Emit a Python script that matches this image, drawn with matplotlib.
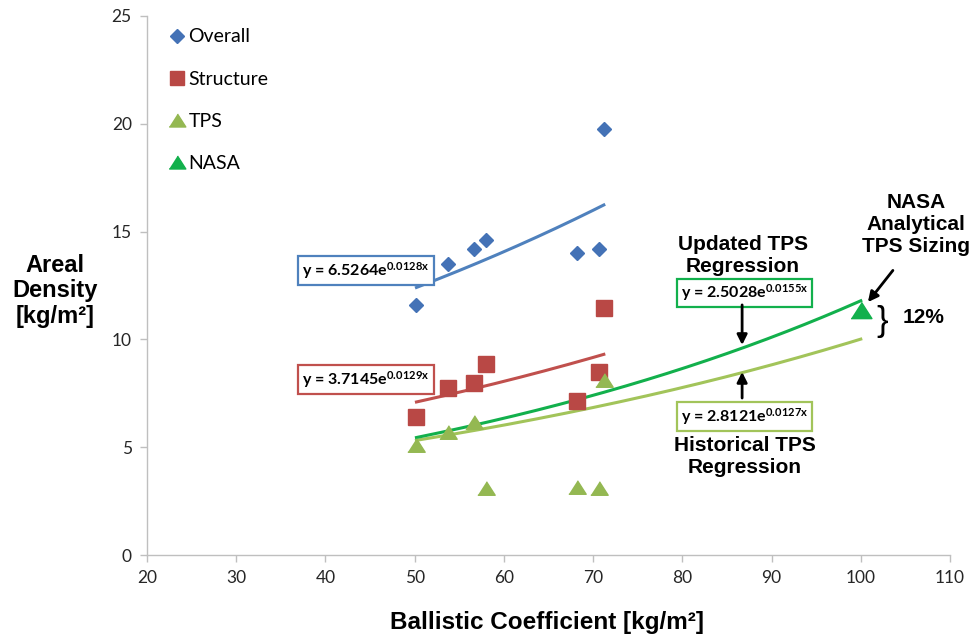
import numpy as np
import matplotlib
matplotlib.use("Agg")
import matplotlib.pyplot as plt
from matplotlib.lines import Line2D

# ---------------- data ----------------
overall_x = [50.2, 53.7, 56.6, 58.0, 68.2, 70.7, 71.2]
overall_y = [11.6, 13.5, 14.2, 14.6, 14.0, 14.2, 19.75]
structure_x = [50.2, 53.7, 56.6, 58.0, 68.2, 70.7, 71.2]
structure_y = [6.41, 7.73, 7.99, 8.86, 7.16, 8.5, 11.46]
tps_x = [50.2, 53.7, 56.6, 58.0, 68.2, 70.7, 71.2]
tps_y = [5.1, 5.72, 6.18, 3.09, 3.17, 3.1, 8.1]
nasa_x = [100.0]
nasa_y = [11.35]

# exponential regressions y = a*exp(b*x)
fit_overall = (6.5264, 0.0128)
fit_structure = (3.7145, 0.0129)
fit_hist = (2.8121, 0.0127)
fit_updated = (2.5028, 0.0155)
fit_range_hist = (50.2, 71.2)
fit_range_ext = (50.2, 100.0)

xticks = [20, 30, 40, 50, 60, 70, 80, 90, 100, 110]
yticks = [0, 5, 10, 15, 20, 25]

plt.rcParams['mathtext.fontset'] = 'custom'
plt.rcParams['mathtext.rm'] = 'Lato:bold'
plt.rcParams['mathtext.bf'] = 'Lato:bold'
plt.rcParams['mathtext.default'] = 'bf'

C_BLUE_M = '#4472B6'
C_BLUE_L = '#4F81BD'
C_RED_M = '#B94845'
C_RED_L = '#C0504D'
C_TPS = '#94B852'
C_HIST = '#A2C45A'
C_NASA = '#12B04C'

fig = plt.figure(figsize=(9.74, 6.36), dpi=100)
ax = fig.add_axes([147/974, 1-555/636, (950-147)/974, (555-16)/636])

tri = [(-1, -0.78), (1, -0.78), (0, 0.78)]

def fit(p, lo, hi):
    xs = np.linspace(lo, hi, 200)
    return xs, p[0]*np.exp(p[1]*xs)

# fits
xs, ys = fit(fit_overall, *fit_range_hist)
ax.plot(xs, ys, color=C_BLUE_L, lw=2.2, zorder=2)
xs, ys = fit(fit_structure, *fit_range_hist)
ax.plot(xs, ys, color=C_RED_L, lw=2.2, zorder=2)
xs, ys = fit(fit_hist, *fit_range_ext)
ax.plot(xs, ys, color=C_HIST, lw=2.2, zorder=2)
xs, ys = fit(fit_updated, *fit_range_ext)
ax.plot(xs, ys, color=C_NASA, lw=2.2, zorder=2)

# points
ax.plot(overall_x, overall_y, ls='none', marker='D', ms=7.5, color=C_BLUE_M, zorder=3)
ax.plot(structure_x, structure_y, ls='none', marker='s', ms=11, color=C_RED_M, zorder=3)
ax.plot(tps_x, tps_y, ls='none', marker=tri, ms=12.5, color=C_TPS, zorder=3)
ax.plot(nasa_x, nasa_y, ls='none', marker=tri, ms=15, color=C_NASA, zorder=4)

ax.set_xlim(20, 110)
ax.set_ylim(0, 25)
ax.set_xticks(xticks)
ax.set_yticks(yticks)
for s in ['top', 'right']:
    ax.spines[s].set_visible(False)
for s in ['left', 'bottom']:
    ax.spines[s].set_color('#BFBFBF')
    ax.spines[s].set_linewidth(1.0)
ax.tick_params(axis='both', colors='#BFBFBF', labelcolor='#262626', length=5, width=1.0,
               labelsize=12.5)
for lab in ax.get_xticklabels() + ax.get_yticklabels():
    lab.set_fontfamily('Lato')
ax.tick_params(axis='x', pad=6)
ax.tick_params(axis='y', pad=6)

# legend
handles = [
    Line2D([], [], ls='none', marker='D', ms=7, color=C_BLUE_M),
    Line2D([], [], ls='none', marker='s', ms=10, color=C_RED_M),
    Line2D([], [], ls='none', marker=tri, ms=12, color=C_TPS),
    Line2D([], [], ls='none', marker=tri, ms=12, color=C_NASA),
]
ax.legend(handles, ['Overall', 'Structure', 'TPS', 'NASA'], loc='upper left',
          bbox_to_anchor=(0.014, 0.995), frameon=False, prop={'family': 'Lato', 'size': 14},
          labelspacing=1.3, handlelength=0.9, handletextpad=0.15, borderpad=0)

# equation boxes
def eqbox(x, y, txt, ec):
    ax.text(x, y, txt, ha='center', va='center', fontsize=11.5, fontfamily='Lato',
            fontweight='bold', color='black', zorder=5,
            bbox=dict(boxstyle='square,pad=0.25', fc='white', ec=ec, lw=1.6))

eqbox(44.55, 13.2, r'y = 6.5264e$^{0.0128x}$', C_BLUE_L)
eqbox(44.55, 8.14, r'y = 3.7145e$^{0.0129x}$', C_RED_L)
eqbox(87.0, 12.15, r'y = 2.5028e$^{0.0155x}$', C_NASA)
eqbox(87.0, 6.42, r'y = 2.8121e$^{0.0127x}$', C_HIST)

lbl = dict(ha='center', va='center', fontsize=15, fontfamily='Liberation Sans',
           fontweight='bold', linespacing=1.2, zorder=6)
ax.text(86.8, 13.87, 'Updated TPS\nRegression', **lbl)
ax.text(87.0, 4.55, 'Historical TPS\nRegression', **lbl)
ax.text(106.2, 15.35, 'NASA\nAnalytical\nTPS Sizing', clip_on=False, **lbl)
ax.text(107.0, 11.0, '12%', clip_on=False, **lbl)
ax.text(102.4, 10.85, '}', ha='center', va='center', fontsize=25, fontfamily='Liberation Sans',
        color='black', zorder=6)

arw = dict(arrowstyle='-|>', lw=2, color='black', mutation_scale=15, shrinkA=0, shrinkB=0)
ax.annotate('', xy=(86.7, 9.74), xytext=(86.7, 11.6), arrowprops=arw, zorder=6)
ax.annotate('', xy=(86.7, 8.49), xytext=(86.7, 7.28), arrowprops=arw, zorder=6)
ax.annotate('', xy=(100.8, 11.73), xytext=(103.6, 13.2), arrowprops=arw, zorder=6)

# axis labels
fig.text(547/974, 1-622/636, 'Ballistic Coefficient [kg/m²]', ha='center', va='center',
         fontsize=17.5, fontweight='bold', fontfamily='Liberation Sans')
fig.text(55/974, 1-291/636, 'Areal\nDensity\n[kg/m²]', ha='center', va='center',
         fontsize=17, fontweight='bold', fontfamily='Liberation Sans', linespacing=1.15)

fig.savefig('out.png', dpi=100)
